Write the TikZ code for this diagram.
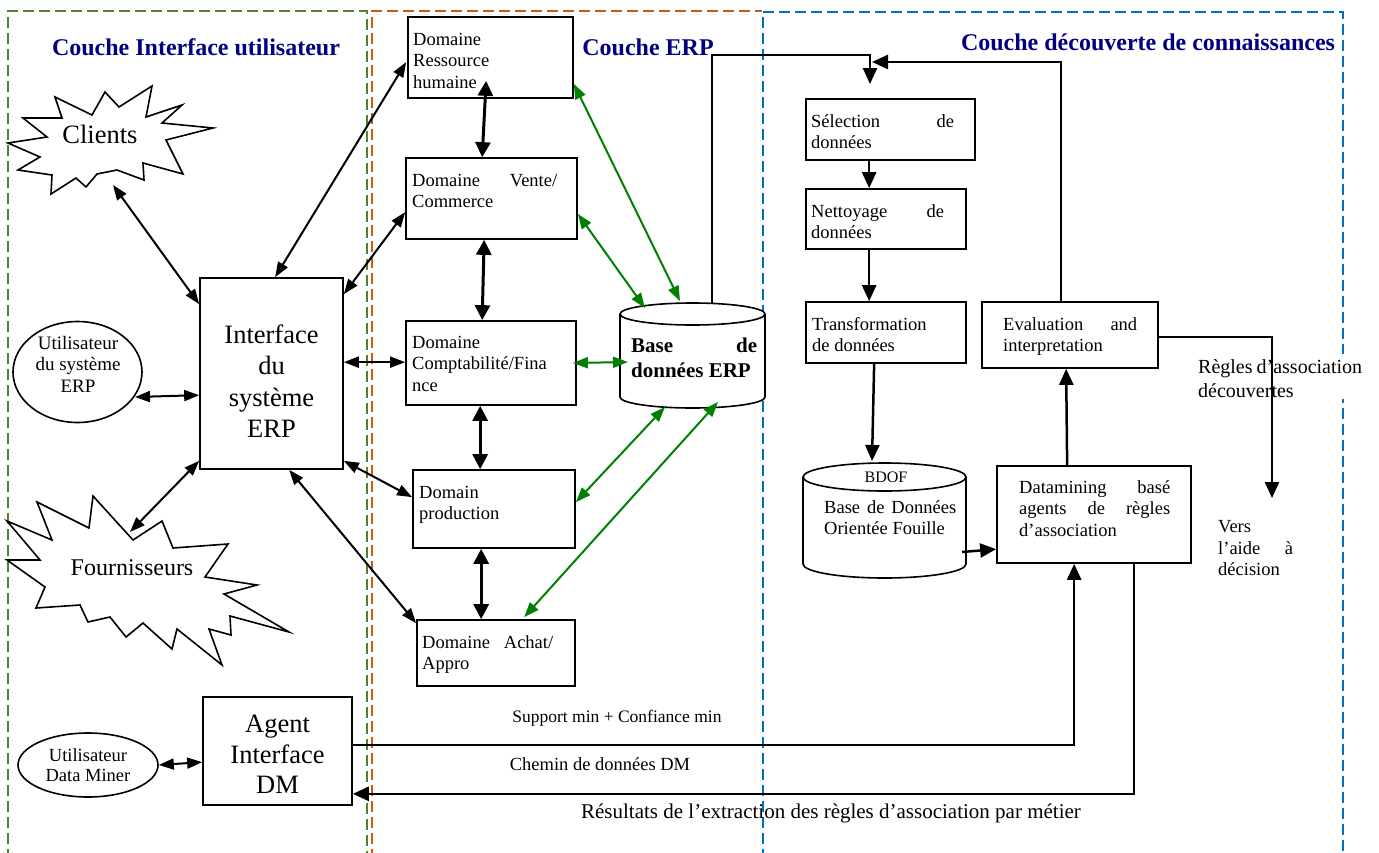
\documentclass[tikz,border=0pt]{standalone}
\usepackage{fontspec}
\setmainfont{Liberation Serif}
\usetikzlibrary{arrows.meta,shapes.geometric,fit}
\definecolor{ttlblue}{RGB}{0,0,128}
\definecolor{frgreen}{RGB}{84,130,53}
\definecolor{frorange}{RGB}{197,90,17}
\definecolor{frblue}{RGB}{0,112,192}
\definecolor{dbgreen}{RGB}{0,128,0}
\begin{document}
\begin{tikzpicture}[x=1pt,y=-1pt,
  frame/.style={line width=1.5pt, dash pattern=on 11pt off 5pt},
  ttl/.style={inner sep=0pt, anchor=base, text=ttlblue, font=\bfseries\fontsize{24}{28}\selectfont},
  box/.style={draw, line width=1.7pt, inner sep=0pt, fill=white},
  shapeline/.style={line width=1.6pt},
  lbl/.style={inner sep=0pt, anchor=north west, align=left, font=\fontsize{18.5}{21.5}\selectfont},
  big/.style={inner sep=0pt, anchor=north, align=center, font=\fontsize{26.5}{31.5}\selectfont},
  plain/.style={inner sep=0pt, anchor=base},
  link/.style={line width=2pt, arrows={Triangle[length=15pt,width=11pt]-Triangle[length=15pt,width=11pt]}},
  vlink/.style={line width=3pt, arrows={Triangle[length=15pt,width=15pt]-Triangle[length=15pt,width=15pt]}},
  glink/.style={link, draw=dbgreen, fill=dbgreen},
  flow/.style={line width=2.5pt, arrows={-Triangle[length=16pt,width=14pt]}}
]
\useasboundingbox (0,0) rectangle (1379,852);

% layer frames
\draw[frame, frgreen] (8,860) -- (8,11) -- (367,11) -- (367,860);
\draw[frame, frorange] (372,860) -- (372,11) -- (762,11);
\draw[frame, frblue] (763,860) -- (763,12) -- (1343,12) -- (1343,860);

% layer titles
\node[ttl] (ttl-ui) at (196,55) {Couche Interface utilisateur};
\node[ttl] (ttl-erp) at (648,55) {Couche ERP};
\node[ttl] (ttl-kdd) at (1148,50) {Couche découverte de connaissances};

% user interface layer
\draw[shapeline, fill=white] (55,97) -- (92,115) -- (105,92) -- (119,107) -- (152,86) -- (146,117)
  -- (182,105) -- (162,123) -- (213,128) -- (166,140) -- (183,174) -- (143,163) -- (144,180)
  -- (117,170) -- (97,174) -- (86,187) -- (76,178) -- (51,194) -- (52,175) -- (18,170)
  -- (40,157) -- (8,143) -- (47,137) -- (23,118) -- (62,118) -- cycle;
\node[inner sep=0pt, anchor=base, font=\fontsize{26.5}{31.5}\selectfont] (clients) at (100,143) {Clients};
\coordinate (clients-tip) at (113,185);

\draw[shapeline, fill=white] (7,521) -- (52,540) -- (37,502) -- (89,528) -- (93,496) -- (133,540)
  -- (162,521) -- (173,548) -- (228,544) -- (205,577) -- (257,585) -- (224,594) -- (289,632)
  -- (230,616) -- (231,635) -- (209,629) -- (222,665) -- (177,629) -- (172,649) -- (143,623)
  -- (126,637) -- (110,617) -- (88,622) -- (80,605) -- (36,608) -- (45,587) -- (7,560)
  -- (40,560) -- cycle;
\node[inner sep=0pt, anchor=base, font=\fontsize{24}{28}\selectfont] (fourn) at (132,575) {Fournisseurs};
\coordinate (fourn-tip) at (130,532);

\node[draw, ellipse, shapeline, minimum width=129pt, minimum height=101pt, inner sep=0pt] (userp) at (77.5,372) {};
\node[inner sep=0pt, anchor=north, align=center, font=\fontsize{19}{21.5}\selectfont] (userp-t) at (78,334) {\strut Utilisateur\\du système\\ERP};
\coordinate (userp-e) at (135,397);

\node[draw, ellipse, shapeline, minimum width=140pt, minimum height=64pt, inner sep=0pt] (udm) at (88,765) {};
\node[inner sep=0pt, anchor=north, align=center, font=\fontsize{18.5}{20}\selectfont] (udm-t) at (88,747) {\strut Utilisateur\\Data Miner};

\node[box, fit={(200,278)(343,469)}] (iface) {};
\node[big] (iface-t) at (271.5,321) {\strut Interface\\du\\système\\ERP};

\node[box, fit={(203,697)(352,805)}] (agent) {};
\node[big, font=\fontsize{26.5}{30.5}\selectfont] (agent-t) at (277.5,711) {\strut Agent\\Interface\\DM};

% ERP layer
\node[box, fit={(408,17)(573,98)}] (rh) {};
\node[lbl] (rh-t) at (413,30) {\strut Domaine\\Ressource\\humaine};
\node[box, fit={(406,158)(577,239)}] (vente) {};
\node[lbl] (vente-t) at (412,171) {\strut\hbox to 145pt{Domaine\hfill Vente/}\\Commerce};
\node[box, fit={(406,321)(576,405)}] (compta) {};
\node[lbl] (compta-t) at (412,333) {\strut Domaine\\Comptabilité/Fina\\nce};
\node[box, fit={(413,470)(575,548)}] (prod) {};
\node[lbl] (prod-t) at (419,483) {\strut Domain\\production};
\node[box, fit={(417,620)(575,686)}] (achat) {};
\node[lbl] (achat-t) at (422,633) {\strut\hbox to 131pt{Domaine\hfill Achat/}\\Appro};

% ERP database
\draw[shapeline, fill=white] (692.5,397) ellipse [x radius=72.5pt, y radius=11pt];
\fill[white] (620,314) rectangle (765,397);
\draw[shapeline] (620,314) -- (620,397) (765,314) -- (765,397);
\draw[shapeline, fill=white] (692.5,314) ellipse [x radius=72.5pt, y radius=11pt];
\node[inner sep=0pt, fit={(620,303)(765,408)}] (erpdb) {};
\node[lbl, font=\bfseries\fontsize{21}{25}\selectfont] (erpdb-t) at (631,334.5) {\strut\hbox to 126pt{Base\hfill de}\\données ERP};
\coordinate (erpdb-rh) at (680,301);
\coordinate (erpdb-vente) at (645,308);
\coordinate (erpdb-compta) at (628,362);
\coordinate (erpdb-prod) at (665,407);
\coordinate (erpdb-achat) at (718,402);
\coordinate (erpdb-top) at (712,303);

% knowledge discovery layer
\node[box, fit={(806,99)(975,160)}] (sel) {};
\node[lbl] (sel-t) at (811,112) {\strut\hbox to 143pt{Sélection\hfill de}\\données};
\node[box, fit={(806,189)(966,249)}] (net) {};
\node[lbl] (net-t) at (811,202) {\strut\hbox to 133pt{Nettoyage\hfill de}\\données};
\node[box, fit={(806,302)(966,363)}] (trans) {};
\node[lbl] (trans-t) at (812,315) {\strut Transformation\\de données};
\node[box, fit={(982,302)(1158,368)}] (eval) {};
\node[lbl] (eval-t) at (1003,315) {\strut\hbox to 134pt{Evaluation\hfill and}\\interpretation};
\node[box, fit={(997,466)(1191,563)}] (dm) {};
\node[lbl] (dm-t) at (1019,478) {\strut\hbox to 151pt{Datamining\hfill basé}\\\hbox to 151pt{agents\hfill de\hfill règles}\\d’association};

% mining-oriented database
\draw[shapeline, fill=white] (884.5,564) ellipse [x radius=81.5pt, y radius=14pt];
\fill[white] (803,477) rectangle (966,564);
\draw[shapeline] (803,477) -- (803,564) (966,477) -- (966,564);
\draw[shapeline, fill=white] (884.5,477) ellipse [x radius=81.5pt, y radius=14pt];
\node[inner sep=0pt, fit={(803,463)(966,578)}] (bdof) {};
\node[plain, font=\fontsize{16}{19}\selectfont] (bdof-n) at (886,482) {BDOF};
\node[lbl] (bdof-t) at (824,498) {\strut\hbox to 132pt{Base\hfill de\hfill Données}\\Orientée Fouille};
\coordinate (bdof-in) at (872,461);
\coordinate (bdof-out) at (962,552);

% free labels
\node[lbl, font=\fontsize{20}{24}\selectfont, fill=white, inner sep=2pt] (regles) at (1196,354) {\strut\hbox to 164pt{Règles\hfill d’association}\\découvertes};
\node[lbl, font=\fontsize{18.5}{21.7}\selectfont] (vers) at (1218,517) {\strut Vers\\\hbox to 75pt{l’aide\hfill à}\\décision};
\coordinate (vers-in) at (1272,498);
\node[plain, font=\fontsize{17.5}{20}\selectfont] (support) at (617,722) {Support min + Confiance min};
\node[plain, font=\fontsize{18.5}{21}\selectfont] (chemin) at (600,770) {Chemin de données DM};
\node[plain, font=\fontsize{21}{24}\selectfont] (result) at (831,818) {Résultats de l’extraction des règles d’association par métier};

% interface links
\draw[link] (clients-tip) -- ([shift={(0,27)}]iface.north west);
\draw[link] ([shift={(76,0)}]iface.north west) -- ([shift={(-1,46)}]rh.north west);
\draw[link] ([shift={(0,17)}]iface.north east) -- ([shift={(0,55)}]vente.north west);
\draw[link] ([shift={(0,85)}]iface.north east) -- ([shift={(0,42)}]compta.north west);
\draw[link] (userp-e) -- ([shift={(0,118)}]iface.north west);
\draw[link] ([shift={(0,-9)}]iface.south west) -- (fourn-tip);
\draw[link] ([shift={(0,-9)}]iface.south east) -- ([shift={(0,28)}]prod.north west);
\draw[link] ([shift={(90,0)}]iface.south west) -- ([shift={(0,4)}]achat.north west);
\draw[link] (udm.east) -- ([shift={(0,66)}]agent.north west);

% links between business domains
\draw[vlink] ([shift={(79,-18)}]rh.south west) -- ([shift={(77,0)}]vente.north west);
\draw[vlink] ([shift={(79,0)}]vente.south west) -- ([shift={(77,0)}]compta.north west);
\draw[vlink] ([shift={(75,0)}]compta.south west) -- ([shift={(68,0)}]prod.north west);
\draw[vlink] ([shift={(69,0)}]prod.south west) -- ([shift={(65,0)}]achat.north west);

% links to the ERP database
\draw[glink] ([shift={(0,-15)}]rh.south east) -- (erpdb-rh);
\draw[glink] ([shift={(0,-26)}]vente.south east) -- (erpdb-vente);
\draw[glink] ([shift={(-4,0)}]compta.east) -- (erpdb-compta);
\draw[glink] ([shift={(0,33)}]prod.north east) -- (erpdb-prod);
\draw[glink] ([shift={(108,-2)}]achat.north west) -- (erpdb-achat);

% discovery process
\coordinate (sel-in) at (870,84);
\coordinate (loop-in) at (872,62);
\draw[flow] (erpdb-top) -- ++(0,-248) -| (sel-in);
\draw[flow] ([shift={(80,0)}]eval.north west) |- (loop-in);
\draw[flow] ([shift={(64,0)}]sel.south west) -- ([shift={(64,0)}]net.north west);
\draw[flow] ([shift={(64,0)}]net.south west) -- ([shift={(64,0)}]trans.north west);
\draw[flow] ([shift={(69,0)}]trans.south west) -- (bdof-in);
\draw[flow] (bdof-out) -- ([shift={(0,84)}]dm.north west);
\draw[flow] ([shift={(71,0)}]dm.north west) -- ([shift={(85,0)}]eval.south west);
\draw[flow] ([shift={(0,36)}]eval.north east) -| (vers-in);
\draw[flow] ([shift={(138,0)}]dm.south west) |- ([shift={(0,-12)}]agent.south east);
\draw[flow] ([shift={(0,49)}]agent.north east) -| ([shift={(78,0)}]dm.south west);
\end{tikzpicture}
\end{document}
